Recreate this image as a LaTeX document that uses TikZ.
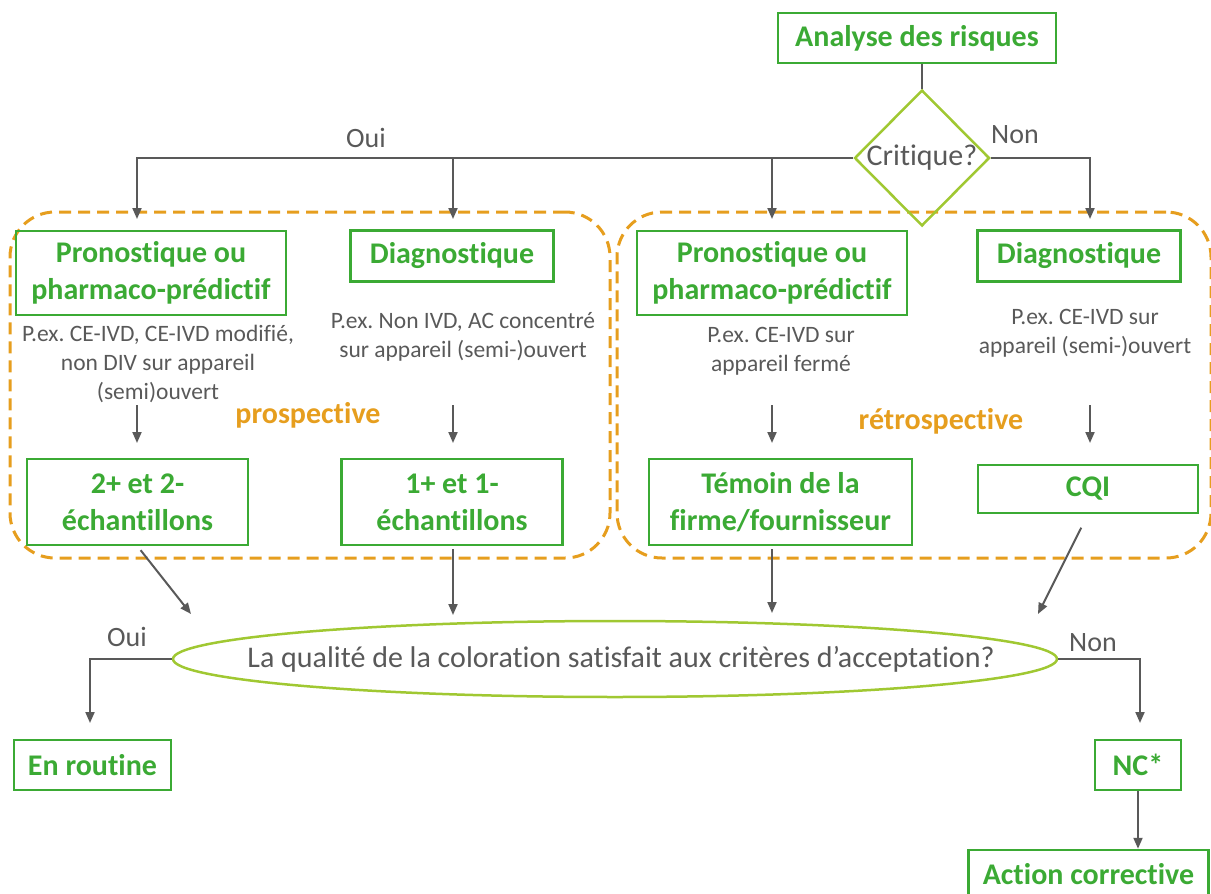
\documentclass[tikz,border=0pt]{standalone}
\usepackage{fontspec}
\setmainfont{Carlito}[RawFeature=-liga]
\usetikzlibrary{arrows.meta,shapes.geometric}
\definecolor{boxgreen}{RGB}{59,170,52}
\definecolor{lime}{RGB}{160,200,50}
\definecolor{amber}{RGB}{230,158,30}
\definecolor{ink}{RGB}{89,89,89}
\frenchspacing
\tikzset{
  box/.style={draw=boxgreen, line width=2.5pt, text=boxgreen,
    font=\fontsize{30}{37}\selectfont\bfseries, align=center, inner sep=0pt},
  note/.style={text=ink, font=\fontsize{23.5}{29}\selectfont, align=center, inner sep=0pt},
  lbl/.style={text=ink, font=\fontsize{28}{32}\selectfont, inner sep=0pt},
  link/.style={draw=ink, line width=2pt},
  arr/.style={link, -{Triangle[length=11pt,width=9pt]}},
  phase/.style={draw=amber, line width=3pt, dash pattern=on 12pt off 7pt,
    rounded corners=45pt},
  phaselbl/.style={text=amber, font=\fontsize{30}{36}\selectfont\bfseries, inner sep=0pt},
  decision/.style={draw=lime, line width=2.5pt, inner sep=0pt},
}
\begin{document}
\begin{tikzpicture}[x=1pt,y=-1pt]
\useasboundingbox (0,0) rectangle (1211,894);

% dashed phase frames
\node[phase, minimum width=600pt, minimum height=346pt] (pro) at (310,385) {};
\node[phase, minimum width=594pt, minimum height=346pt] (retro) at (914,385) {};
\node[phaselbl] (prolbl) at (308,415) {prospective};
\node[phaselbl] (retrolbl) at (941,421) {rétrospective};

% top of the flow
\node[box, minimum width=278pt, minimum height=50pt] (risk) at (917,38) {Analyse des risques};
\node[decision, diamond, minimum width=135pt, minimum height=136pt] (crit) at (922,158) {};
\node[text=ink, font=\fontsize{30}{34}\selectfont, inner sep=0pt] (crittxt) at (922,158) {Critique?};
\node[lbl] (oui1) at (366,138) {Oui};
\node[lbl] (non1) at (1015,135) {Non};

% prospective branch
\node[box, minimum width=270pt, minimum height=84pt] (pp1) at (151,273) {Pronostique ou\\pharmaco-prédictif};
\node[box, minimum width=203pt, minimum height=51pt] (dg1) at (452,256) {Diagnostique};
\node[note] (n1) at (158,364) {P.ex. CE-IVD, CE-IVD modifié,\\non DIV sur appareil\\(semi)ouvert};
\node[note] (n2) at (463,337) {P.ex. Non IVD, AC concentré\\sur appareil (semi-)ouvert};
\node[box, minimum width=221pt, minimum height=86pt] (s1) at (137.5,502) {2+ et 2-\\échantillons};
\node[box, minimum width=221pt, minimum height=86pt] (s2) at (452,502) {1+ et 1-\\échantillons};

% retrospective branch
\node[box, minimum width=270pt, minimum height=84pt] (pp2) at (772,273) {Pronostique ou\\pharmaco-prédictif};
\node[box, minimum width=203pt, minimum height=51pt] (dg2) at (1079,256) {Diagnostique};
\node[note] (n3) at (781,351) {P.ex. CE-IVD sur\\appareil fermé};
\node[note] (n4) at (1085,333) {P.ex. CE-IVD sur\\appareil (semi-)ouvert};
\node[box, minimum width=263pt, minimum height=86pt] (s3) at (780.5,502) {Témoin de la\\firme/fournisseur};
\node[box, minimum width=220pt, minimum height=48pt] (s4) at (1088,489) {CQI};

% acceptance check
\node[decision, ellipse, minimum width=884pt, minimum height=76pt] (q) at (615,659) {};
\node[text=ink, font=\fontsize{30}{34}\selectfont, inner sep=0pt] (qtxt) at (621,659)
  {La qualité de la coloration satisfait aux critères d’acceptation?};
\node[lbl] (oui2) at (127,637) {Oui};
\node[lbl] (non2) at (1093,643) {Non};
\node[box, minimum width=157pt, minimum height=50pt] (routine) at (92.5,765) {En routine};
\node[box, minimum width=86pt, minimum height=50pt] (nc) at (1138,765) {NC*};
\node[box, minimum width=240pt, minimum height=48pt] (act) at (1088.5,874) {Action corrective};

% connector ends
\coordinate (t1) at (137,219);
\coordinate (j2) at (453,158);
\coordinate (t2) at (453,219);
\coordinate (j3) at (772,158);
\coordinate (t3) at (772,219);
\coordinate (t4) at (1090,219);
\coordinate (u1) at (137,405); \coordinate (v1) at (137,443);
\coordinate (u2) at (453,405); \coordinate (v2) at (453,443);
\coordinate (u3) at (772,405); \coordinate (v3) at (772,443);
\coordinate (u4) at (1090,405); \coordinate (v4) at (1090,443);
\coordinate (e1) at (191,614);
\coordinate (e2) at (453,615);
\coordinate (e3) at (772,613);
\coordinate (e4) at (1038,614);
\coordinate (r1) at (90,723);
\coordinate (r2) at (1140,723);

% connectors
\draw[link] (risk.south -| crit.north) -- (crit.north);
\draw[arr] (crit.west) -| (t1);
\draw[arr] (j2) -- (t2);
\draw[arr] (j3) -- (t3);
\draw[arr] (crit.east) -| (t4);
\draw[arr] (u1) -- (v1);
\draw[arr] (u2) -- (v2);
\draw[arr] (u3) -- (v3);
\draw[arr] (u4) -- (v4);
\draw[arr, shorten <=5pt] (s1.south) -- (e1);
\draw[arr, shorten <=3pt] (s2.south -| e2) -- (e2);
\draw[arr, shorten <=3pt] (s3.south -| e3) -- (e3);
\draw[arr, shorten <=15pt] (s4.south) -- (e4);
\draw[arr] (q.west) -| (r1);
\draw[arr] (q.east) -| (r2);
\draw[arr] (nc.south) -- (nc.south |- act.north);
\end{tikzpicture}
\end{document}
